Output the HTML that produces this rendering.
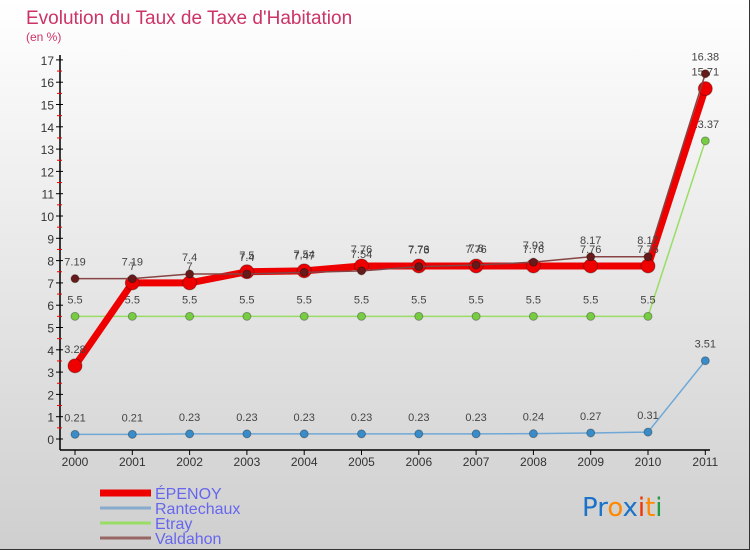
<!DOCTYPE html>
<html><head><meta charset="utf-8"><style>
body{margin:0}
#c{width:750px;height:550px;position:relative;background:linear-gradient(#ffffff,#cfcfcf);border-right:1px solid #333;border-bottom:1px solid #333;box-sizing:border-box;font-family:"Liberation Sans",sans-serif;overflow:hidden}
</style></head><body>
<div id="c">
<svg id="s" width="750" height="550"></svg>
</div>
<script>
const years=["2000","2001","2002","2003","2004","2005","2006","2007","2008","2009","2010","2011"];
const epenoy=[3.28,7,7,7.5,7.54,7.76,7.76,7.76,7.76,7.76,7.76,15.71];
const rantechaux=[0.21,0.21,0.23,0.23,0.23,0.23,0.23,0.23,0.24,0.27,0.31,3.51];
const etray=[5.5,5.5,5.5,5.5,5.5,5.5,5.5,5.5,5.5,5.5,5.5,13.37];
const valdahon=[7.19,7.19,7.4,7.4,7.47,7.54,7.73,7.8,7.93,8.17,8.17,16.38];
const yTicks=[0,1,2,3,4,5,6,7,8,9,10,11,12,13,14,15,16,17];
const NS="http://www.w3.org/2000/svg";
const s=document.getElementById('s');
const X=i=>75+i*57.3, Y=v=>439-v*22.3;
function mk(t,a,p){const e=document.createElementNS(NS,t);for(const k in a)e.setAttribute(k,a[k]);(p||s).appendChild(e);return e;}
let t=mk('text',{x:26,y:24,fill:'#cc3366','font-size':19});t.textContent="Evolution du Taux de Taxe d'Habitation";

t=mk('text',{x:26,y:41,fill:'#cc3366','font-size':12});t.textContent="(en %)";

let ax=mk('line',{x1:60,y1:55,x2:60,y2:450,stroke:'#000','stroke-width':1.5});

ax=mk('line',{x1:60,y1:450,x2:710,y2:450,stroke:'#000','stroke-width':1.5});

yTicks.forEach(v=>{
 mk('line',{x1:56,y1:Y(v),x2:63,y2:Y(v),stroke:'#000'});
 if(v<17)mk('line',{x1:57,y1:Y(v+0.5),x2:62,y2:Y(v+0.5),stroke:'#e00'});
 const l=mk('text',{x:54,y:Y(v)+5,'text-anchor':'end','font-size':12,fill:'#333'});l.textContent=v;
 
});
years.forEach((y,i)=>{
 mk('line',{x1:X(i),y1:450,x2:X(i),y2:455,stroke:'#000'});
 const l=mk('text',{x:X(i),y:466,'text-anchor':'middle','font-size':12,fill:'#333'});l.textContent=y;
 
});
function series(d,col,w,r,name,dot){
 const g=mk('g',{});
 mk('polyline',{points:d.map((v,i)=>X(i)+','+Y(v)).join(' '),fill:'none',stroke:col,'stroke-width':w,'stroke-linejoin':'round'},g);
 d.forEach((v,i)=>{
  const c=mk('circle',{cx:X(i),cy:Y(v),r:r,fill:dot||col,stroke:'rgba(0,0,0,0.3)'},g);
  
  const l=mk('text',{x:X(i),y:Y(v)-13,'text-anchor':'middle','font-size':11,fill:'#444'},g);l.textContent=v;
 });
}
series(rantechaux,'#6fa8d6',1.5,4,'rantechaux','#3a8cc8');
series(etray,'#99dd66',1.5,4,'etray','#77cc44');
series(epenoy,'#ee0000',7,7,'epenoy');
series(valdahon,'#884444',1.5,4,'valdahon','#661a1a');
const leg=[["ÉPENOY","#ee0000",7],["Rantechaux","#88aacc",3],["Etray","#99dd66",3],["Valdahon","#996666",3]];
leg.forEach((e,i)=>{
 const g=mk('g',{});
 mk('line',{x1:100,y1:493+i*15,x2:151,y2:493+i*15,stroke:e[1],'stroke-width':e[2]},g);
 const l=mk('text',{x:155,y:499+i*15,'font-size':16,fill:'#6666ee'},g);l.textContent=e[0];
});
const lg=mk('text',{x:582,y:516,'font-size':26,'font-family':'DejaVu Sans, sans-serif'});

[["Pr","#1a73c8"],["o","#ff8800"],["x","#1a73c8"],["i","#ee3300"],["t","#ff8800"],["i","#229944"]].forEach(p=>{const ts=mk('tspan',{fill:p[1]},lg);ts.textContent=p[0];});
</script>
</body></html>
